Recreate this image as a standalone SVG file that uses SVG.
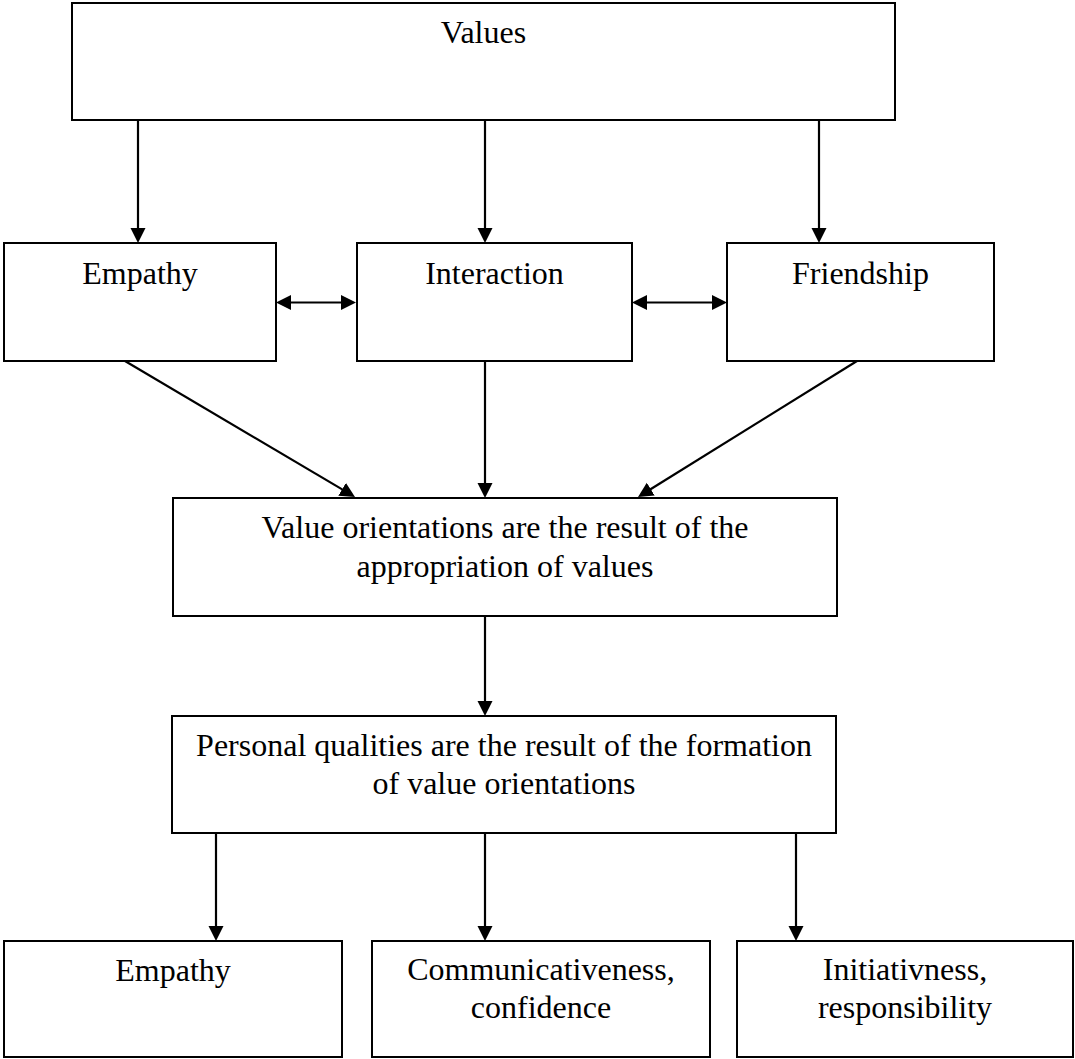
<svg xmlns="http://www.w3.org/2000/svg" width="1075" height="1059" viewBox="0 0 1075 1059">
<style>
  .box { fill: #ffffff; stroke: #000000; stroke-width: 2; }
  .lbl { font-family: "Liberation Serif", "Times New Roman", serif; font-size: 32px; fill: #000000; text-anchor: middle; }
  .conn { stroke: #000000; stroke-width: 2.2; fill: none; }
</style>
<defs>
  <marker id="ah" markerUnits="userSpaceOnUse" markerWidth="16" markerHeight="16" viewBox="0 0 16 15" refX="5" refY="7.5" orient="auto-start-reverse">
    <path d="M0,0 L15,7.5 L0,15 z" fill="#000000"/>
  </marker>
</defs>
<rect x="0" y="0" width="1075" height="1059" fill="#ffffff"/>
<g id="connectors">
  <line class="conn" x1="138" y1="120" x2="138" y2="233" marker-end="url(#ah)"/>
  <line class="conn" x1="485" y1="120" x2="485" y2="233" marker-end="url(#ah)"/>
  <line class="conn" x1="819" y1="120" x2="819" y2="233" marker-end="url(#ah)"/>
  <line class="conn" x1="286" y1="302.5" x2="346" y2="302.5" marker-start="url(#ah)" marker-end="url(#ah)"/>
  <line class="conn" x1="642" y1="302.5" x2="717" y2="302.5" marker-start="url(#ah)" marker-end="url(#ah)"/>
  <line class="conn" x1="125" y1="361" x2="346.4" y2="491.9" marker-end="url(#ah)"/>
  <line class="conn" x1="485" y1="361" x2="485" y2="488" marker-end="url(#ah)"/>
  <line class="conn" x1="857" y1="361" x2="646.5" y2="491.7" marker-end="url(#ah)"/>
  <line class="conn" x1="485" y1="616" x2="485" y2="706" marker-end="url(#ah)"/>
  <line class="conn" x1="216" y1="833" x2="216" y2="931" marker-end="url(#ah)"/>
  <line class="conn" x1="485" y1="833" x2="485" y2="931" marker-end="url(#ah)"/>
  <line class="conn" x1="796" y1="833" x2="796" y2="931" marker-end="url(#ah)"/>
</g>
<g id="node-values">
  <rect class="box" x="72" y="3" width="823" height="117"/>
  <text class="lbl" x="483.5" y="43">Values</text>
</g>
<g id="node-empathy-top">
  <rect class="box" x="4" y="243" width="272" height="118"/>
  <text class="lbl" x="140" y="284">Empathy</text>
</g>
<g id="node-interaction">
  <rect class="box" x="357" y="243" width="275" height="118"/>
  <text class="lbl" x="494.5" y="284">Interaction</text>
</g>
<g id="node-friendship">
  <rect class="box" x="727" y="243" width="267" height="118"/>
  <text class="lbl" x="860.5" y="284">Friendship</text>
</g>
<g id="node-value-orientations">
  <rect class="box" x="173" y="498" width="664" height="118"/>
  <text class="lbl" x="505" y="538">Value orientations are the result of the</text>
  <text class="lbl" x="505" y="577">appropriation of values</text>
</g>
<g id="node-personal-qualities">
  <rect class="box" x="172" y="716" width="664" height="117"/>
  <text class="lbl" x="504" y="756">Personal qualities are the result of the formation</text>
  <text class="lbl" x="504" y="794">of value orientations</text>
</g>
<g id="node-empathy-bottom">
  <rect class="box" x="4" y="941" width="338" height="116"/>
  <text class="lbl" x="173" y="981">Empathy</text>
</g>
<g id="node-communicativeness">
  <rect class="box" x="372" y="941" width="338" height="116"/>
  <text class="lbl" x="541" y="980">Communicativeness,</text>
  <text class="lbl" x="541" y="1018">confidence</text>
</g>
<g id="node-initiativness">
  <rect class="box" x="737" y="941" width="336" height="116"/>
  <text class="lbl" x="905" y="980">Initiativness,</text>
  <text class="lbl" x="905" y="1018">responsibility</text>
</g>
</svg>
